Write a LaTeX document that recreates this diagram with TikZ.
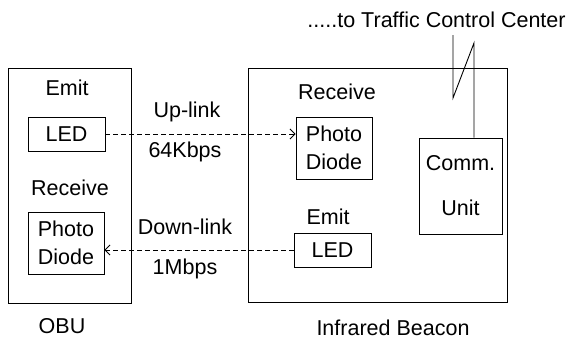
\documentclass[tikz,border=0pt]{standalone}
\usepackage{fontspec}
\setmainfont{Liberation Sans}
\usetikzlibrary{arrows.meta,calc}
\begin{document}
\begin{tikzpicture}[x=1pt,y=-1pt,line width=0.9pt,>={Straight Barb[length=5pt,width=10pt]},
	box/.style={draw,inner sep=0pt,align=center},
	lbl/.style={inner sep=0pt},
	link/.style={->,dash pattern=on 5pt off 3pt}]
	\useasboundingbox (0,0) rectangle (567,340);
	\tikzset{every node/.append style={font=\fontsize{21.5}{24}\selectfont}}
	% the two units
	\node[box,minimum width=123pt,minimum height=235pt] (obu) at (69.5,185.5) {};
	\node[box,minimum width=259pt,minimum height=234pt] (beacon) at (377.5,185) {};
	\node[lbl] (obuname) at (62,326) {OBU};
	\node[lbl] (beaconname) at (393,328) {Infrared Beacon};
	% OBU side
	\node[lbl] (emitA) at (67,88) {Emit};
	\node[box,minimum width=77pt,minimum height=34pt] (ledA) at (66.5,134) {LED};
	\node[lbl] (recvA) at (70,188) {Receive};
	\node[box,minimum width=76pt,minimum height=62pt] (pdA) at (66,243) {Photo\\[4pt]Diode};
	% beacon side
	\node[lbl] (recvB) at (337,92) {Receive};
	\node[box,minimum width=76pt,minimum height=62pt] (pdB) at (334,148) {Photo\\[4pt]Diode};
	\node[lbl] (emitB) at (328,217) {Emit};
	\node[box,minimum width=77pt,minimum height=34pt] (ledB) at (332.5,250) {LED};
	\node[box,minimum width=83pt,minimum height=96pt] (comm) at (460.5,186) {Comm.\\[21pt]Unit};
	% links
	\draw[link] (ledA.east) -- (ledA.east -| pdB.west);
	\draw[link] (ledB.west) -- (ledB.west -| pdA.east);
	\node[lbl] (upA) at (187,112) {Up-link};
	\node[lbl] (upB) at (185,152) {64Kbps};
	\node[lbl] (dnA) at (185,227) {Down-link};
	\node[lbl] (dnB) at (185,269) {1Mbps};
	% line out to the centre
	\node[lbl,anchor=east] (tcc) at (566,20) {.....to Traffic Control Center};
	\coordinate (brkA) at (474,43);
	\coordinate (brkB) at (453,98);
	\coordinate (brkC) at (453,35);
	\draw (comm.north -| brkA) -- (brkA) -- (brkB) -- (brkC);
\end{tikzpicture}
\end{document}
